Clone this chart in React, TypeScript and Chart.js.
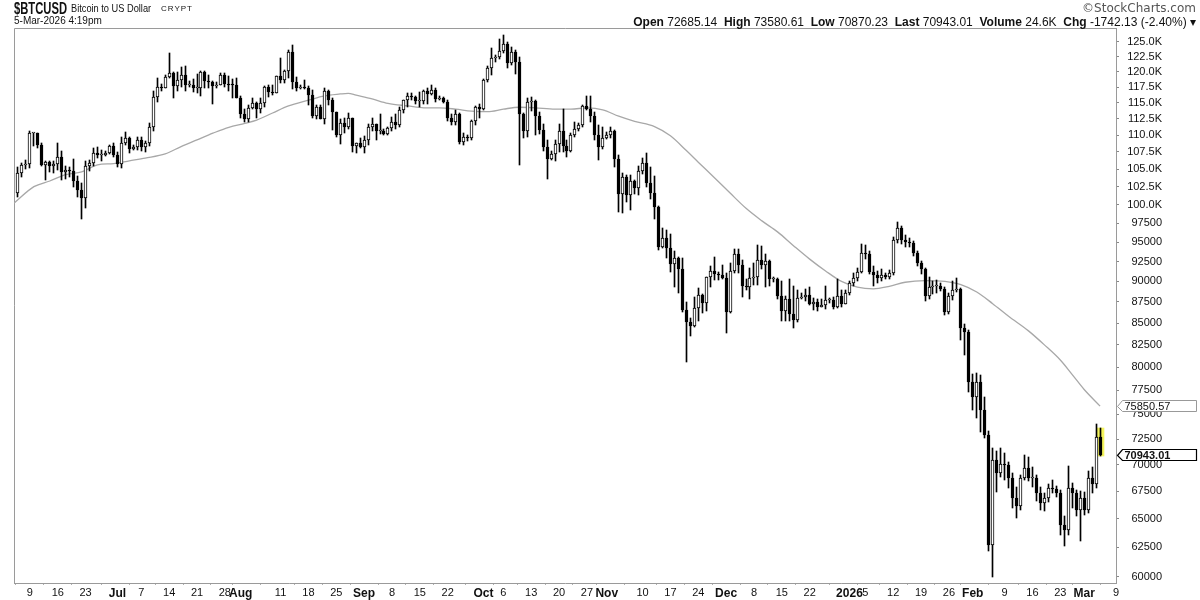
import React, { useEffect, useRef } from "react";
import { Chart, registerables } from "chart.js";

Chart.register(...registerables);

// Daily candles, day index 0 = 6-Jun-2025 ... 272 = 5-Mar-2026 (values in thousands USD)
const OPEN = [
  101.6,104.4,105.6,105.7,110.3,110.3,108.6,105.6,106.0,105.5,105.7,106.8,104.6,104.9,104.7,103.3,102.1,100.9,105.5,105.9,
  107.3,107.0,107.1,107.3,108.4,107.1,105.7,108.8,109.6,108.0,108.2,109.2,108.2,108.9,111.3,115.9,117.5,117.4,119.1,119.8,
  117.7,118.7,119.4,117.9,117.9,117.3,117.4,119.9,118.5,118.3,117.6,117.9,119.4,118.0,117.9,117.8,115.8,113.3,112.5,114.2,
  115.0,114.1,115.0,117.5,116.7,116.5,119.3,118.7,120.2,123.3,118.4,117.4,117.5,117.4,116.3,112.9,114.3,112.5,116.9,115.4,
  113.5,110.1,111.8,111.2,112.6,108.4,108.8,108.2,109.2,111.2,111.7,110.7,110.7,110.2,111.1,112.0,111.5,113.9,115.5,116.1,
  115.9,115.3,115.3,116.8,116.4,117.1,115.6,115.7,115.2,112.7,112.0,113.3,109.0,109.7,109.6,112.1,114.4,114.0,118.6,120.6,
  122.3,122.4,123.5,124.7,121.4,123.3,121.7,113.2,110.6,115.2,115.3,113.0,110.8,108.2,106.4,107.2,108.7,110.6,108.4,107.6,
  110.1,111.0,111.6,114.5,114.1,112.9,110.0,108.3,109.6,110.1,110.6,106.5,101.5,103.9,101.3,103.3,102.3,104.7,105.9,103.0,
  101.6,99.7,94.4,95.5,94.2,92.2,92.9,91.5,86.6,85.1,84.7,86.8,88.3,87.4,90.5,91.3,90.9,90.8,90.4,86.3,
  91.3,93.5,92.1,89.4,89.3,90.4,90.6,92.7,92.0,92.5,90.3,90.3,88.2,86.4,87.8,86.1,85.4,88.0,88.15,88.35,
  87.3,87.5,86.95,87.15,87.7,87.7,86.95,88.2,87.3,88.6,89.8,90.4,91.2,93.6,93.5,91.2,90.8,90.4,90.8,90.6,
  91.0,95.3,96.8,95.3,95.0,94.9,93.6,92.3,91.5,88.2,89.3,89.4,89.5,89.1,86.3,88.2,89.0,89.1,84.4,84.0,
  78.4,76.8,78.4,75.45,72.9,62.7,70.45,69.2,70.1,70.0,68.7,66.9,66.1,68.7,69.65,68.7,68.7,67.3,66.4,66.85,
  67.8,67.7,67.3,64.4,64.0,67.8,67.3,65.8,66.85,65.8,68.7,68.2,72.68514
];
const HIGH = [
  105.3,105.9,106.3,110.6,110.4,110.4,108.8,106.2,106.2,106.1,108.9,107.7,105.5,105.3,106.5,104.0,103.0,106.1,106.3,108.1,
  108.3,107.8,107.6,108.5,108.8,107.5,109.7,110.5,109.7,108.5,109.7,109.7,109.1,111.9,116.8,118.9,118.0,119.5,123.2,119.9,
  120.0,120.8,120.9,118.5,118.8,119.7,120.2,120.1,119.5,118.5,118.3,119.8,119.8,119.3,118.8,118.9,116.1,114.0,114.7,115.7,
  115.1,115.7,117.7,117.8,117.8,119.3,122.3,120.3,123.7,124.5,119.2,117.9,118.6,117.6,117.0,114.6,114.6,117.4,117.0,115.8,
  113.6,112.4,112.6,113.4,112.6,108.9,109.5,109.9,111.7,112.6,111.7,113.3,110.9,111.3,112.8,113.2,114.3,115.5,116.6,116.6,
  116.1,116.7,117.0,117.3,117.9,117.4,116.1,115.9,115.4,113.2,113.9,113.4,110.3,110.0,112.3,114.5,114.8,118.8,121.0,123.9,
  122.8,125.5,126.2,125.0,124.1,123.7,122.5,113.4,115.8,115.9,115.4,113.6,111.7,109.3,107.6,109.3,111.7,114.0,109.2,110.3,
  112.0,111.9,114.7,116.0,116.0,113.6,111.6,111.2,110.5,111.2,110.8,107.0,104.5,104.2,104.1,103.4,105.5,106.6,107.3,105.3,
  104.0,99.8,96.8,96.6,96.0,93.8,93.1,93.0,87.5,85.6,88.1,89.2,88.5,90.6,91.9,93.1,91.2,92.0,91.0,92.3,
  94.1,94.1,92.7,90.3,91.7,92.3,94.6,94.5,93.5,92.7,90.6,90.4,90.0,88.2,90.3,89.4,88.9,88.6,89.1,89.3,
  88.0,87.9,87.9,89.4,88.0,88.1,90.3,88.9,89.0,90.0,91.0,91.7,94.7,94.6,93.8,91.9,91.3,91.6,91.1,91.4,
  95.6,97.6,97.1,95.9,95.5,95.2,93.8,92.6,91.7,90.5,90.0,90.2,89.8,89.3,88.6,90.0,90.4,89.2,84.9,84.2,
  79.3,79.4,79.2,76.8,73.3,71.6,71.3,71.6,71.1,70.3,69.2,67.9,69.0,70.9,70.7,69.8,69.0,67.9,67.3,68.2,
  68.5,68.0,67.6,65.2,69.9,68.3,67.6,67.5,67.4,69.4,69.8,74.0,73.58061
];
const LOW = [
  101.1,103.9,105.0,105.1,108.4,108.1,105.5,103.5,104.6,104.5,104.9,103.4,103.6,103.9,102.4,101.0,98.1,99.6,104.7,105.4,
  106.6,106.1,106.9,107.2,106.8,105.3,105.2,108.6,107.3,107.8,107.8,107.6,107.5,108.4,110.6,115.2,116.9,117.3,118.9,115.7,
  116.9,117.5,116.8,117.5,116.7,116.6,116.1,117.4,117.3,114.8,117.4,117.8,117.5,116.9,115.8,115.7,112.7,112.0,112.0,114.0,
  112.7,113.4,114.3,115.9,116.3,116.5,118.1,118.2,118.9,117.2,116.8,117.2,117.2,114.7,112.7,112.4,112.4,111.7,114.6,110.8,
  109.7,108.7,110.3,110.9,107.5,107.4,108.1,107.3,108.5,110.6,109.3,110.2,110.0,110.0,110.6,110.9,111.3,113.4,114.3,115.5,
  114.8,114.4,114.8,114.8,116.2,115.2,115.5,115.0,112.1,111.5,111.6,108.7,108.6,109.1,109.3,111.6,112.7,113.9,118.4,119.4,
  121.6,122.2,123.1,120.6,121.1,119.7,105.6,109.6,109.8,113.7,110.1,110.2,107.7,103.6,106.3,106.1,107.5,107.5,106.7,107.5,
  109.7,110.6,111.2,113.9,112.0,109.3,106.3,108.0,109.4,109.5,105.3,99.0,98.9,100.3,99.3,101.5,101.4,104.3,102.5,100.8,
  98.0,94.0,94.2,93.0,91.2,89.3,88.6,86.3,80.6,83.5,84.6,85.3,86.2,86.4,89.3,90.2,90.2,90.3,83.9,86.2,
  91.1,91.0,88.1,88.9,87.8,89.6,89.6,91.6,89.3,89.5,89.9,87.8,85.2,85.3,85.3,84.4,85.1,87.8,87.6,87.1,
  86.6,86.4,86.9,86.7,87.4,86.7,86.8,86.9,87.2,88.3,89.5,90.1,91.0,92.8,90.9,89.5,89.8,90.1,90.3,90.3,
  90.8,94.9,94.8,94.3,94.4,93.2,91.9,90.9,87.6,87.8,88.5,88.6,88.8,86.0,86.1,87.7,88.7,83.0,81.4,77.3,
  75.5,74.6,73.2,72.6,62.2,60.0,67.4,68.8,68.5,67.8,66.0,65.1,65.8,68.5,68.4,67.9,66.6,65.8,65.7,66.5,
  67.3,67.0,63.6,62.6,63.6,66.0,65.2,63.0,65.3,65.5,67.3,67.8,70.87023
];
const CLOSE = [
  104.4,105.6,105.7,110.3,110.3,108.6,105.6,106.0,105.5,105.7,106.8,104.6,104.9,104.7,103.3,102.1,100.9,105.5,105.9,107.3,
  107.0,107.1,107.3,108.4,107.1,105.7,108.8,109.6,108.0,108.2,109.2,108.2,108.9,111.3,115.9,117.5,117.4,119.1,119.8,117.7,
  118.7,119.4,117.9,117.9,117.3,117.4,119.9,118.5,118.3,117.6,117.9,119.4,118.0,117.9,117.8,115.8,113.3,112.5,114.2,115.0,
  114.1,115.0,117.5,116.7,116.5,119.3,118.7,120.2,123.3,118.4,117.4,117.5,117.4,116.3,112.9,114.3,112.5,116.9,115.4,113.5,
  110.1,111.8,111.2,112.6,108.4,108.8,108.2,109.2,111.2,111.7,110.7,110.7,110.2,111.1,112.0,111.5,113.9,115.5,116.1,115.9,
  115.3,115.3,116.8,116.4,117.1,115.6,115.7,115.2,112.7,112.0,113.3,109.0,109.7,109.6,112.1,114.4,114.0,118.6,120.6,122.3,
  122.4,123.5,124.7,121.4,123.3,121.7,113.2,110.6,115.2,115.3,113.0,110.8,108.2,106.4,107.2,108.7,110.6,108.4,107.6,110.1,
  111.0,111.6,114.5,114.1,112.9,110.0,108.3,109.6,110.1,110.6,106.5,101.5,103.9,101.3,103.3,102.3,104.7,105.9,103.0,101.6,
  99.7,94.4,95.5,94.2,92.2,92.9,91.5,86.6,85.1,84.7,86.8,88.3,87.4,90.5,91.3,90.9,90.8,90.4,86.3,91.3,
  93.5,92.1,89.4,89.3,90.4,90.6,92.7,92.0,92.5,90.3,90.3,88.2,86.4,87.8,86.1,85.4,88.0,88.15,88.35,87.3,
  87.5,86.95,87.15,87.7,87.7,86.95,88.2,87.3,88.6,89.8,90.4,91.2,93.6,93.5,91.2,90.8,90.4,90.8,90.6,91.0,
  95.3,96.8,95.3,95.0,94.9,93.6,92.3,91.5,88.2,89.3,89.4,89.5,89.1,86.3,88.2,89.0,89.1,84.4,84.0,78.4,
  76.8,78.4,75.45,72.9,62.7,70.45,69.2,70.1,70.0,68.7,66.9,66.1,68.7,69.65,68.7,68.7,67.3,66.4,66.85,67.8,
  67.7,67.3,64.4,64.0,67.8,67.3,65.8,66.85,65.8,68.7,68.2,72.69,70.94301
];

// 50-day moving average at sample days (thousands USD)
const MA_DAY = [-1,4,8,12,16,20,24,28,32,37,41,45,49,53,57,60,64,68,73,77,81,83,85,89,93,98,102,106,110,114,118,122,126,130,135,139,143,147,151,155,160,164,168,171,175,179,183,187,191,195,199,203,207,211,215,219,223,228,233,237,241,245,249,254,258,262,265,268,272];
const MA_VAL = [100.2,102.5,103.3,104.2,104.6,105.6,105.8,106.2,106.6,107.2,108.3,109.3,110.3,111.2,111.8,112.3,113.4,114.5,115.4,116.1,116.4,116.5,116.2,115.6,114.9,114.5,114.2,114.2,114.0,113.7,113.6,114.0,114.3,114.2,114.0,114.0,114.2,113.9,112.9,112.1,111.3,109.9,107.7,106.0,103.8,101.6,99.5,97.8,96.3,94.5,92.8,91.3,90.0,89.3,89.1,89.4,89.9,90.1,90.0,89.6,88.7,87.3,85.8,84.1,82.5,80.8,79.2,77.6,75.85057];

// X axis tick labels (day index, label, month marker)
const X_TICK_DAY = [3,10,17,25,31,38,45,52,56,66,73,80,87,94,101,108,117,122,129,136,143,148,157,164,171,178,185,192,199,209,213,220,227,234,240,248,255,262,268,276];
const X_TICK_LABEL = ["9","16","23","Jul","7","14","21","28","Aug","11","18","25","Sep","8","15","22","Oct","6","13","20","27","Nov","10","17","24","Dec","8","15","22","2026","5","12","19","26","Feb","9","16","23","Mar","9"];
const X_TICK_MONTH = [0,0,0,1,0,0,0,0,1,0,0,0,1,0,0,0,1,0,0,0,0,1,0,0,0,1,0,0,0,1,0,0,0,0,1,0,0,0,1,0];

// Y axis tick values
const Y_TICKS = [60000,62500,65000,67500,70000,72500,75000,77500,80000,82500,85000,87500,90000,92500,95000,97500,100000,102500,105000,107500,110000,112500,115000,117500,120000,122500,125000];

// Right-edge price tags
const TAG_VALUE = [75850.57, 70943.01];
const TAG_TEXT = ["75850.57", "70943.01"];
const TAG_BOLD = [false, true];

const FONT = '"Liberation Sans", Arial, Helvetica, sans-serif';

const snapPlugin = {
  id: "snap",
  beforeDatasetsDraw(chart: any) {
    chart.data.datasets.forEach((ds: any, di: number) => {
      if (ds.type === "line") return;
      const meta = chart.getDatasetMeta(di);
      meta.data.forEach((el: any) => {
        const w = el.width;
        const left = Math.round(el.x - w / 2);
        el.x = left + w / 2;
        const top = Math.round(Math.min(el.y, el.base));
        let bot = Math.round(Math.max(el.y, el.base));
        if (bot - top < 1) bot = top + 1;
        el.y = top;
        el.base = bot;
      });
    });
  },
};

const framePlugin = {
  id: "frame",
  beforeDatasetsDraw(chart: any) {
    const { ctx, chartArea } = chart;
    ctx.save();
    ctx.strokeStyle = "#9a9a9a";
    ctx.lineWidth = 1;
    ctx.beginPath();
    ctx.moveTo(Math.round(chartArea.left) + 0.5, Math.round(chartArea.bottom));
    ctx.lineTo(Math.round(chartArea.left) + 0.5, Math.round(chartArea.top) + 0.5);
    ctx.lineTo(Math.round(chartArea.right), Math.round(chartArea.top) + 0.5);
    ctx.stroke();
    ctx.restore();
  },
};

const tagPlugin = {
  id: "tags",
  afterDraw(chart: any) {
    const { ctx, chartArea } = chart;
    const ys = chart.scales.y;
    ctx.save();
    TAG_VALUE.forEach((v, k) => {
      const y = Math.round(ys.getPixelForValue(v)) + 0.5;
      const x0 = Math.round(chartArea.right) + 1.5;
      const x1 = 1196.5;
      ctx.beginPath();
      ctx.moveTo(x0, y);
      ctx.lineTo(x0 + 5, y - 6);
      ctx.lineTo(x1, y - 6);
      ctx.lineTo(x1, y + 5);
      ctx.lineTo(x0 + 5, y + 5);
      ctx.closePath();
      ctx.fillStyle = "#ffffff";
      ctx.fill();
      ctx.lineWidth = TAG_BOLD[k] ? 1.2 : 1;
      ctx.strokeStyle = TAG_BOLD[k] ? "#000000" : "#999999";
      ctx.stroke();
      ctx.fillStyle = "#111";
      ctx.font = (TAG_BOLD[k] ? "bold " : "") + "11px " + FONT;
      ctx.textBaseline = "middle";
      ctx.textAlign = "left";
      ctx.fillText(TAG_TEXT[k], x0 + 7, y);
    });
    ctx.restore();
  },
};

function PriceChart() {
  const ref = useRef<HTMLCanvasElement | null>(null);
  useEffect(() => {
    if (!ref.current) return;
    const last = CLOSE.length - 1;
    const bodies = CLOSE.map((c, i) => ({ x: i, y: [OPEN[i] * 1000, c * 1000] }));
    const wicks = CLOSE.map((_, i) => ({ x: i, y: [LOW[i] * 1000, HIGH[i] * 1000] }));
    const bodyFill = CLOSE.map((c, i) => (c >= OPEN[i] ? "#ffffff" : "#000000"));
    const ma = MA_DAY.map((d, k) => ({ x: d, y: MA_VAL[k] * 1000 }));
    const chart = new Chart(ref.current, {
      type: "bar",
      data: {
        datasets: [
          {
            type: "bar",
            data: bodies as any,
            backgroundColor: bodyFill,
            borderColor: "#000000",
            borderWidth: 1,
            borderSkipped: false,
            barThickness: 3,
            minBarLength: 1,
            grouped: false,
            order: 0,
          } as any,
          {
            type: "bar",
            data: wicks as any,
            backgroundColor: "#000000",
            borderWidth: 0,
            barThickness: 1,
            grouped: false,
            order: 1,
          } as any,
          {
            type: "line",
            data: ma as any,
            borderColor: "#a8a8a8",
            borderWidth: 1.3,
            pointRadius: 0,
            cubicInterpolationMode: "monotone",
            order: 2,
          } as any,
          {
            type: "bar",
            data: [{ x: last, y: [LOW[last] * 1000, HIGH[last] * 1000] }] as any,
            backgroundColor: "#f4f45c",
            borderWidth: 0,
            barThickness: 7,
            grouped: false,
            order: 3,
          } as any,
        ],
      },
      options: {
        animation: false,
        responsive: false,
        devicePixelRatio: 1,
        layout: { padding: { left: 14, top: 28, right: 38, bottom: 0 } },
        plugins: { legend: { display: false }, tooltip: { enabled: false } },
        scales: {
          x: {
            type: "linear",
            min: -1,
            max: 276,
            offset: false,
            grid: { display: true, drawOnChartArea: false, drawTicks: true, tickLength: 2, color: "#b0b0b0" },
            border: { display: true, color: "#9a9a9a", dash: [1, 1] },
            afterBuildTicks: (scale: any) => {
              scale.ticks = X_TICK_DAY.map((d, k) => ({ value: d, major: X_TICK_MONTH[k] === 1 }));
            },
            afterFit: (scale: any) => {
              scale.height = 17;
            },
            ticks: {
              autoSkip: false,
              maxRotation: 0,
              minRotation: 0,
              padding: 1,
              color: "#111",
              font: (ctx: any) => ({
                family: FONT,
                size: ctx.tick && ctx.tick.major ? 12 : 11,
                weight: ctx.tick && ctx.tick.major ? "bold" : "normal",
              }),
              callback: (_v: any, idx: number) => X_TICK_LABEL[idx],
            },
          } as any,
          y: {
            type: "logarithmic",
            position: "right",
            min: 59508,
            max: 127424,
            grid: { display: true, drawOnChartArea: false, drawTicks: true, tickLength: 3, color: "#888" },
            border: { display: true, color: "#9a9a9a", dash: [1, 1] },
            afterBuildTicks: (scale: any) => {
              scale.ticks = Y_TICKS.map((v) => ({ value: v }));
            },
            afterFit: (scale: any) => {
              scale.width = 46;
            },
            ticks: {
              autoSkip: false,
              crossAlign: "far",
              padding: 6,
              color: "#111",
              font: { family: FONT, size: 11 },
              callback: (v: any) => (Number(v) >= 100000 ? (Number(v) / 1000).toFixed(1) + "K" : String(v)),
            },
          } as any,
        },
      } as any,
      plugins: [framePlugin, snapPlugin, tagPlugin],
    });
    return () => chart.destroy();
  }, []);
  return <canvas ref={ref} width={1200} height={600} style={{ position: "absolute", left: 0, top: 0, width: 1200, height: 600 }} />;
}

export default function App() {
  const base: React.CSSProperties = { position: "absolute", fontFamily: FONT, color: "#111", whiteSpace: "nowrap", lineHeight: 1 };
  const squeeze = (sx: number): React.CSSProperties => ({ display: "inline-block", transform: `scaleX(${sx})`, transformOrigin: "left center" });
  return (
    <div style={{ position: "absolute", left: 0, top: 0, width: 1200, height: 600, background: "#fff", overflow: "hidden" }}>
      <PriceChart />
      <div style={{ ...base, left: 14, top: 0, fontSize: 17, fontWeight: "bold" }}>
        <span style={squeeze(0.66)}>$BTCUSD</span>
      </div>
      <div style={{ ...base, left: 71, top: 3, fontSize: 11 }}>
        <span style={squeeze(0.84)}>Bitcoin to US Dollar</span>
      </div>
      <div style={{ ...base, left: 161, top: 5, fontSize: 8, letterSpacing: 1 }}>CRYPT</div>
      <div style={{ ...base, left: 14, top: 16, fontSize: 10 }}>5-Mar-2026 4:19pm</div>
      <div style={{ ...base, right: 4, top: 2, fontSize: 12, color: "#555", fontFamily: '"DejaVu Sans", ' + FONT }}>©StockCharts.com</div>
      <div style={{ ...base, right: 4, top: 16, fontSize: 12 }}>
        <b>Open</b> 72685.14 <b>&nbsp;High</b> 73580.61 <b>&nbsp;Low</b> 70870.23 <b>&nbsp;Last</b> 70943.01 <b>&nbsp;Volume</b> 24.6K <b>&nbsp;Chg</b> -1742.13 (-2.40%) ▾
      </div>
    </div>
  );
}
